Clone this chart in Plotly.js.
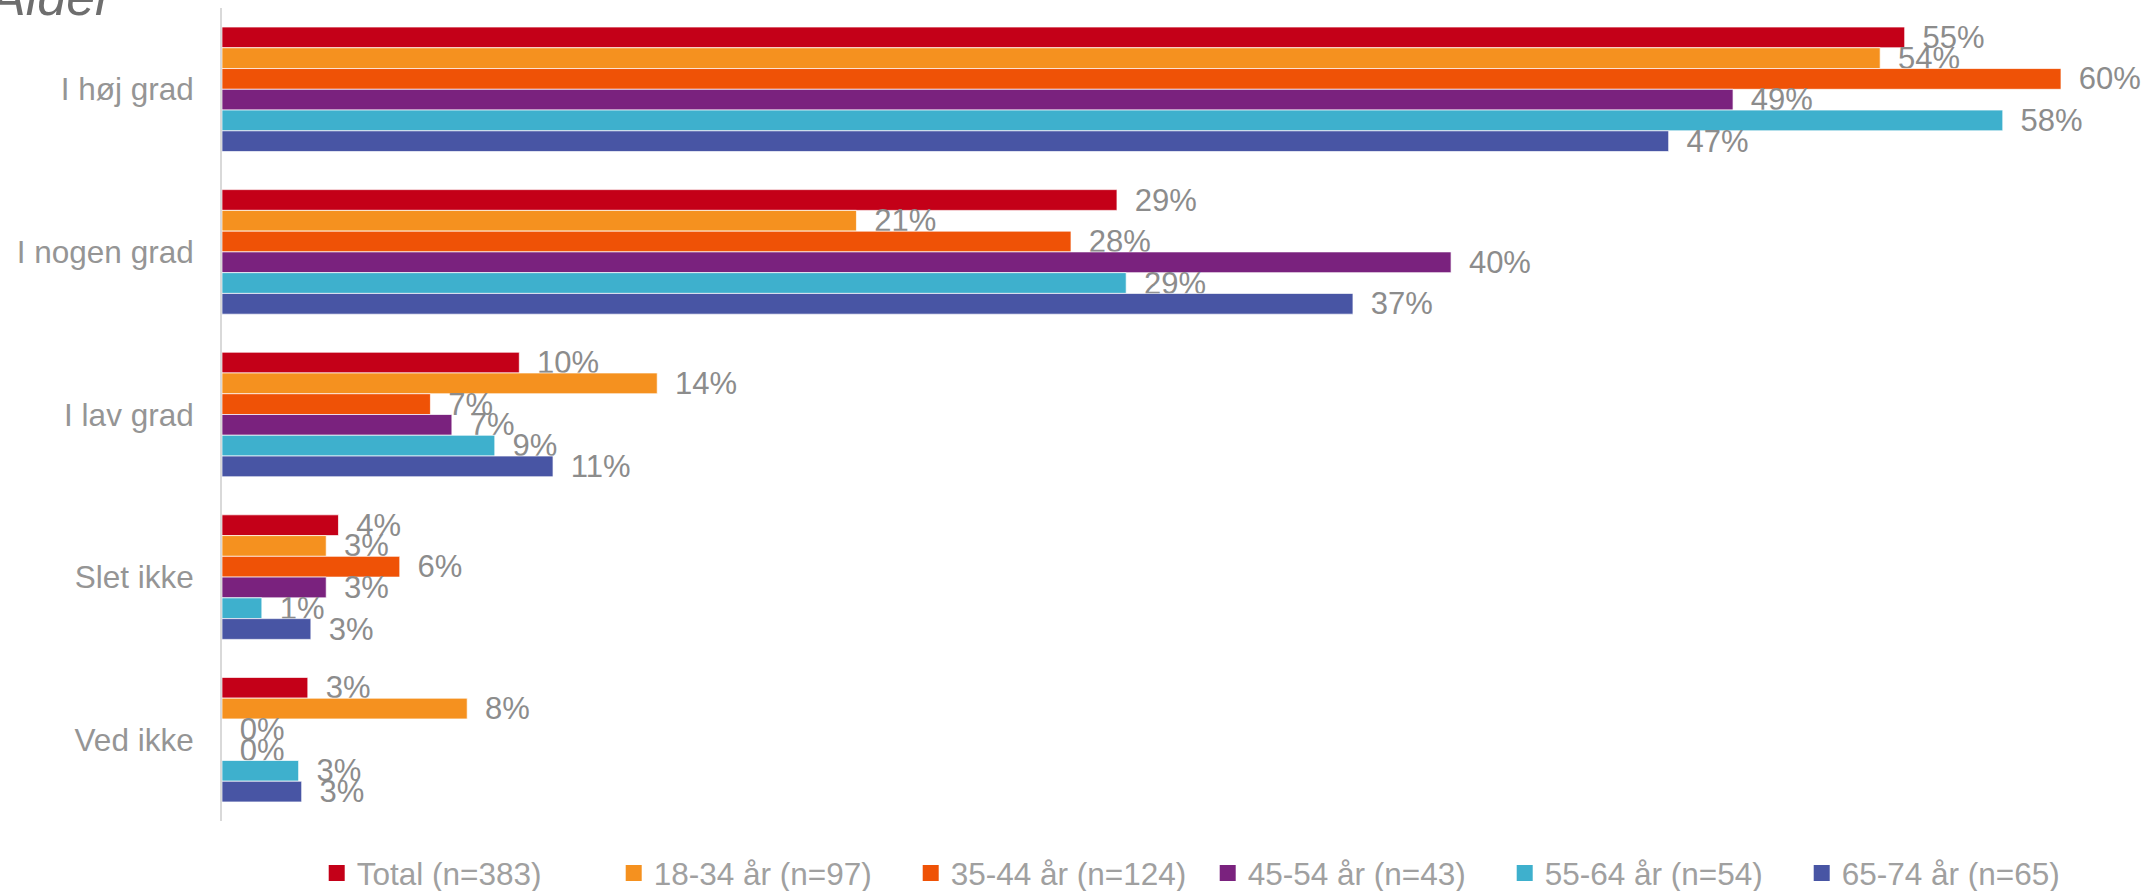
<!DOCTYPE html>
<html>
<head>
<meta charset="utf-8">
<script src="https://cdn.plot.ly/plotly-3.0.1.min.js"></script>
<style>html,body{margin:0;padding:0;background:#fff;}#chart{width:2144px;height:891px;}</style>
</head>
<body>
<div id="chart"></div>
<script>
const categories = ['I høj grad', 'I nogen grad', 'I lav grad', 'Slet ikke', 'Ved ikke'];
const seriesNames = ['Total (n=383)', '18-34 år (n=97)', '35-44 år (n=124)', '45-54 år (n=43)', '55-64 år (n=54)', '65-74 år (n=65)'];
const total  = [54.9, 29.2, 9.7, 3.8, 2.8];
const a18_34 = [54.1, 20.7, 14.2, 3.4, 8.0];
const a35_44 = [60.0, 27.7, 6.8, 5.8, 0];
const a45_54 = [49.3, 40.1, 7.5, 3.4, 0];
const a55_64 = [58.1, 29.5, 8.9, 1.3, 2.5];
const a65_74 = [47.2, 36.9, 10.8, 2.9, 2.6];
const lblTotal  = ['55%', '29%', '10%', '4%', '3%'];
const lbl18_34 = ['54%', '21%', '14%', '3%', '8%'];
const lbl35_44 = ['60%', '28%', '7%', '6%', '0%'];
const lbl45_54 = ['49%', '40%', '7%', '3%', '0%'];
const lbl55_64 = ['58%', '29%', '9%', '1%', '3%'];
const lbl65_74 = ['47%', '37%', '11%', '3%', '3%'];
const colors = ['#C40018', '#F5911F', '#EF5206', '#7A227E', '#3EB0CD', '#4855A4'];

const values = [total, a18_34, a35_44, a45_54, a55_64, a65_74];
const labels = [lblTotal, lbl18_34, lbl35_44, lbl45_54, lbl55_64, lbl65_74];
const FONT = 'Arial, Liberation Sans, sans-serif';

const bars = values.map((v, i) => ({
  type: 'bar',
  orientation: 'h',
  name: seriesNames[i],
  showlegend: false,
  y: categories,
  x: v,
  text: labels[i],
  texttemplate: '\u00a0\u2009%{text}',
  textposition: 'outside',
  constraintext: 'none',
  cliponaxis: false,
  outsidetextfont: {family: FONT, size: 31, color: '#8c8c8c'},
  marker: {color: colors[i], line: {color: 'rgba(255,255,255,0.7)', width: 1}},
  hoverinfo: 'x+name'
}));

// legend-only entries with square swatches
const legendItems = seriesNames.map((n, i) => ({
  type: 'scatter',
  mode: 'markers',
  name: n,
  x: [null],
  y: [null],
  marker: {symbol: 'square', size: 16, color: colors[i]},
  hoverinfo: 'skip'
}));

const layout = {
  width: 2144,
  height: 891,
  margin: {l: 222, r: 83, t: 8, b: 70, autoexpand: false},
  paper_bgcolor: '#ffffff',
  plot_bgcolor: '#ffffff',
  barmode: 'group',
  bargap: 0.234,
  bargroupgap: 0,
  font: {family: FONT, color: '#959595'},
  xaxis: {range: [0, 60], visible: false, fixedrange: true},
  yaxis: {
    autorange: 'reversed',
    showline: true, linecolor: '#d9d9d9', linewidth: 2,
    ticks: '', showgrid: false, zeroline: false,
    ticklabelstandoff: 20,
    tickfont: {size: 31.5, color: '#959595'}
  },
  showlegend: true,
  legend: {
    orientation: 'h',
    x: 0.0515, xanchor: 'left',
    y: -0.064, yanchor: 'middle',
    font: {size: 31.5, color: '#a0a0a0'},
    entrywidth: 252,
    entrywidthmode: 'pixels',
    traceorder: 'normal'
  },
  annotations: [{
    text: '<i>Alder</i>',
    xref: 'paper', yref: 'paper',
    x: -236 / 1839, xanchor: 'left',
    y: 0.975, yanchor: 'bottom',
    showarrow: false,
    font: {family: FONT, size: 52, color: '#6e6e6e'}
  }]
};

Plotly.newPlot('chart', bars.concat(legendItems), layout, {displayModeBar: false, staticPlot: true});
</script>
</body>
</html>
